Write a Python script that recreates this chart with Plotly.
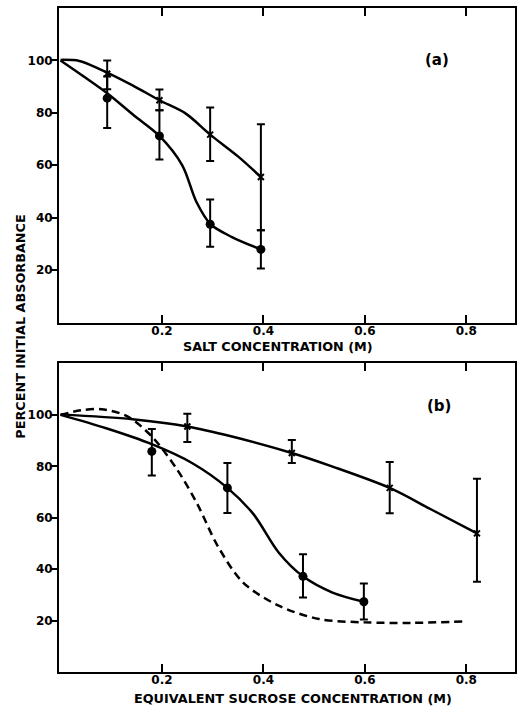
import plotly.graph_objects as go

# ---------------- Panel (a): salt concentration ----------------
a_x_pts = [0.092, 0.195, 0.295, 0.395]
a_circ_y = [85.6, 71.2, 37.5, 27.9]
a_circ_hi = [93.9, 81.0, 46.9, 35.2]
a_circ_lo = [74.2, 62.2, 28.9, 20.6]
a_cross_y = [94.9, 84.8, 71.7, 55.5]
a_cross_hi = [100.0, 88.9, 82.0, 75.6]
a_cross_lo = [89.0, 81.0, 61.6, 35.2]

# fitted curves
a_circ_curve_x = [0.0, 0.045, 0.092, 0.145, 0.195, 0.24, 0.268, 0.296, 0.338, 0.395]
a_circ_curve_y = [100.0, 94.0, 87.5, 79.0, 71.2, 60.0, 46.0, 37.5, 32.6, 27.9]
a_cross_curve_x = [0.0, 0.037, 0.076, 0.142, 0.195, 0.247, 0.295, 0.351, 0.395]
a_cross_curve_y = [100.2, 99.8, 96.8, 90.5, 84.8, 79.7, 71.7, 63.2, 55.5]

# ---------------- Panel (b): equivalent sucrose concentration ----------------
b_circ_x = [0.18, 0.329, 0.478, 0.598]
b_circ_y = [85.8, 71.6, 37.2, 27.3]
b_circ_hi = [94.5, 81.3, 45.8, 34.4]
b_circ_lo = [76.4, 61.8, 29.0, 20.4]
b_cross_x = [0.25, 0.456, 0.649, 0.821]
b_cross_y = [95.5, 85.2, 71.6, 53.9]
b_cross_hi = [100.4, 90.2, 81.7, 75.2]
b_cross_lo = [89.5, 81.3, 61.7, 35.1]

b_circ_curve_x = [0.0, 0.09, 0.18, 0.26, 0.329, 0.38, 0.43, 0.478, 0.535, 0.598]
b_circ_curve_y = [100.0, 94.8, 88.6, 81.2, 71.6, 61.5, 46.5, 37.2, 31.0, 27.3]
b_cross_curve_x = [0.0, 0.142, 0.25, 0.338, 0.456, 0.535, 0.649, 0.731, 0.821]
b_cross_curve_y = [100.2, 98.3, 95.5, 91.6, 85.2, 80.0, 71.6, 63.2, 53.9]
b_dash_x = [0.0, 0.04, 0.08, 0.13, 0.18, 0.23, 0.27, 0.31, 0.36, 0.43, 0.51, 0.60, 0.69, 0.80]
b_dash_y = [100.0, 101.8, 102.2, 99.6, 91.6, 78.7, 65.2, 49.0, 34.8, 25.8, 20.6, 19.3, 19.1, 19.7]

x_ticks = [0.2, 0.4, 0.6, 0.8]
x_tick_text = ["0.2", "0.4", "0.6", "0.8"]
y_ticks = [20, 40, 60, 80, 100]
y_tick_text = ["20", "40", "60", "80", "100"]

FONT = "DejaVu Sans"
LW = 2.5

fig = go.Figure()


def add_curve(x, y, xa, ya, dash="solid"):
    fig.add_trace(go.Scatter(x=x, y=y, mode="lines", xaxis=xa, yaxis=ya,
                             line=dict(color="black", width=LW, shape="spline", smoothing=0.9, dash=dash),
                             showlegend=False, hoverinfo="skip"))


def add_points(x, y, hi, lo, xa, ya, symbol, size, lw=0):
    fig.add_trace(go.Scatter(
        x=x, y=y, mode="markers", xaxis=xa, yaxis=ya,
        marker=dict(symbol=symbol, size=size, color="black", line=dict(color="black", width=lw)),
        error_y=dict(type="data", symmetric=False,
                     array=[h - v for h, v in zip(hi, y)],
                     arrayminus=[v - l for v, l in zip(y, lo)],
                     color="black", thickness=2, width=4),
        showlegend=False))


# panel (a)
add_curve(a_circ_curve_x, a_circ_curve_y, "x", "y")
add_curve(a_cross_curve_x, a_cross_curve_y, "x", "y")
add_points(a_x_pts, a_circ_y, a_circ_hi, a_circ_lo, "x", "y", "circle", 9)
add_points(a_x_pts, a_cross_y, a_cross_hi, a_cross_lo, "x", "y", "x-thin", 6, 2)

# panel (b)
add_curve(b_dash_x, b_dash_y, "x2", "y2", dash="8px,5px")
add_curve(b_circ_curve_x, b_circ_curve_y, "x2", "y2")
add_curve(b_cross_curve_x, b_cross_curve_y, "x2", "y2")
add_points(b_circ_x, b_circ_y, b_circ_hi, b_circ_lo, "x2", "y2", "circle", 9)
add_points(b_cross_x, b_cross_y, b_cross_hi, b_cross_lo, "x2", "y2", "x-thin", 6, 2)

tickfont = dict(family=FONT, size=12, color="black", weight="bold")
xr = [-0.003, 0.896]
yr = [0, 120]

xcommon = dict(range=xr, tickvals=x_ticks, ticktext=x_tick_text, ticks="inside", ticklen=8,
               tickwidth=2, tickcolor="black", showline=True, linecolor="black", linewidth=2,
               mirror="ticks", showgrid=False, zeroline=False, tickfont=tickfont,
               ticklabelstandoff=-4)
ycommon = dict(range=yr, tickvals=y_ticks, ticktext=y_tick_text, ticks="outside", ticklen=6,
               tickwidth=2, tickcolor="black", showline=True, linecolor="black", linewidth=2,
               mirror=True, showgrid=False, zeroline=False, tickfont=tickfont,
               ticklabelstandoff=-4)
yright = dict(range=yr, tickvals=y_ticks, ticks="inside", ticklen=7, tickwidth=2, tickcolor="black",
              showticklabels=False, showline=False, showgrid=False, zeroline=False, side="right")

dom_a = [350 / 665, 1.0]
dom_b = [0.0, 309 / 665]

fig.update_layout(
    width=523, height=711,
    margin=dict(l=59, r=6, t=7, b=39),
    paper_bgcolor="white", plot_bgcolor="white",
    font=dict(family=FONT, color="black"),
    xaxis=dict(xcommon, anchor="y", domain=[0, 1]),
    yaxis=dict(ycommon, anchor="x", domain=dom_a),
    xaxis2=dict(xcommon, anchor="y2", domain=[0, 1]),
    yaxis2=dict(ycommon, anchor="x2", domain=dom_b),
    yaxis3=dict(yright, overlaying="y", anchor="x"),
    yaxis4=dict(yright, overlaying="y2", anchor="x2"),
)

bold = dict(family=FONT, size=12.8, color="black", weight="bold")
fig.add_annotation(text="SALT CONCENTRATION (M)", xref="paper", yref="paper",
                   x=(279 - 59) / 458, y=(672 - 346) / 665, showarrow=False,
                   xanchor="center", yanchor="middle", font=bold)
fig.add_annotation(text="EQUIVALENT SUCROSE CONCENTRATION (M)", xref="paper", yref="paper",
                   x=(294 - 59) / 458, y=(672 - 699) / 665, showarrow=False,
                   xanchor="center", yanchor="middle", font=bold)
fig.add_annotation(text="PERCENT INITIAL ABSORBANCE", xref="paper", yref="paper",
                   x=(20 - 59) / 458, y=(672 - 326) / 665, showarrow=False, textangle=-90,
                   xanchor="center", yanchor="middle", font=bold)
fig.add_annotation(text="(a)", xref="x", yref="y", x=0.742, y=100, showarrow=False,
                   font=dict(family=FONT, size=15, color="black", weight="bold"))
fig.add_annotation(text="(b)", xref="x2", yref="y2", x=0.746, y=103.5, showarrow=False,
                   font=dict(family=FONT, size=15, color="black", weight="bold"))

fig.write_html("out.html")
